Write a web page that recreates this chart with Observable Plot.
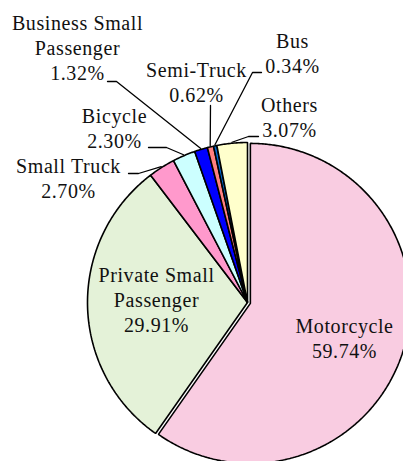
<!DOCTYPE html>
<html>
<head>
<meta charset="utf-8">
<script src="https://cdn.jsdelivr.net/npm/d3@7"></script>
<script src="https://cdn.jsdelivr.net/npm/@observablehq/plot@0.6"></script>
<style>
  html, body { margin: 0; padding: 0; background: #fff; overflow: hidden; }
  #chart svg { display: block; overflow: hidden; }
  #chart svg text { letter-spacing: 0.6px; }
</style>
</head>
<body>
<div id="chart"></div>
<script>
// ---- data ----
const categories = ["Motorcycle", "Private Small Passenger", "Small Truck", "Bicycle",
  "Business Small Passenger", "Semi-Truck", "Bus", "Others"];
const shares = [59.74, 29.91, 2.70, 2.30, 1.32, 0.62, 0.34, 3.07];
const labelNames = [["Motorcycle"], ["Private Small", "Passenger"], ["Small Truck"], ["Bicycle"],
  ["Business Small", "Passenger"], ["Semi-Truck"], ["Bus"], ["Others"]];

// ---- styles / layout ----
const palette = ["#F9CCE1", "#E4F2D8", "#FF99CC", "#CCFFFF", "#0000FF", "#FF8080", "#0066CC", "#FFFFCC"];
const W = 403, H = 461, CX = 247, CY = 302, R = 160;
const explodePx = [3, 0, 0, 0, 0, 0, 0, 0];
// label anchor: center x, baseline of the last line (pixels); leader: label-side points (pixels)
const labelLayout = [
  {x: 344, y: 357},
  {x: 156, y: 331},
  {x: 68, y: 197.5, leader: [[128, 173], [138, 173]]},
  {x: 114, y: 147.5, leader: [[148, 147], [166, 147]]},
  {x: 77, y: 79.5, leader: [[107, 81], [116, 81]]},
  {x: 196, y: 101.5, leader: [[210, 105]]},
  {x: 292, y: 72.5, leader: [[261, 72], [252, 72]]},
  {x: 289, y: 136, leader: [[258, 136], [248, 136]]}
];
const fontSize = 20, lineGap = 25;
const serif = "Liberation Serif";

// ---- geometry from data ----
const table = categories.map((name, i) => ({name, share: shares[i]}));
const arcs = d3.pie().sort(null).value(d => d.share)(table);
const ux = px => (px - CX) / R;
const uy = py => (CY - py) / R;

const slicePoints = [];
arcs.forEach((a, i) => {
  const mid = (a.startAngle + a.endAngle) / 2;
  const e = explodePx[i] / R;
  const ox = e * Math.sin(mid), oy = e * Math.cos(mid);
  const name = a.data.name;
  slicePoints.push({name, x: ox, y: oy});
  const n = Math.max(2, Math.ceil((a.endAngle - a.startAngle) / (Math.PI / 360)));
  for (let k = 0; k <= n; ++k) {
    const t = a.startAngle + (a.endAngle - a.startAngle) * k / n;
    slicePoints.push({name, x: ox + Math.sin(t), y: oy + Math.cos(t)});
  }
});

const leaderPoints = [];
arcs.forEach((a, i) => {
  const L = labelLayout[i];
  if (!L.leader) return;
  const mid = (a.startAngle + a.endAngle) / 2;
  const name = a.data.name;
  L.leader.forEach(([px, py]) => leaderPoints.push({name, x: ux(px), y: uy(py)}));
  const rr = 1 + 1 / R;
  leaderPoints.push({name, x: rr * Math.sin(mid), y: rr * Math.cos(mid)});
});

// one text row per line (no tspans)
const labelLines = arcs.flatMap((a, i) => {
  const lines = [...labelNames[i], `${a.data.share.toFixed(2)}%`];
  const n = lines.length;
  return lines.map((line, j) => ({
    name: a.data.name,
    text: line,
    x: ux(labelLayout[i].x),
    y: uy(labelLayout[i].y - (n - 1 - j) * lineGap)
  }));
});

const chart = Plot.plot({
  width: W,
  height: H,
  margin: 0,
  style: {background: "#fff", overflow: "hidden"},
  x: {domain: [-1, 1], range: [CX - R, CX + R], axis: null},
  y: {domain: [-1, 1], range: [CY + R, CY - R], axis: null},
  color: {domain: categories, range: palette},
  marks: [
    Plot.line(slicePoints, {x: "x", y: "y", z: "name", fill: "name", stroke: "#000",
      strokeWidth: 1.6, curve: "linear-closed", strokeLinejoin: "miter"}),
    Plot.line(leaderPoints, {x: "x", y: "y", z: "name", stroke: "#000", strokeWidth: 1.3}),
    Plot.text(labelLines, {x: "x", y: "y", text: "text", fontSize, fontFamily: serif,
      lineAnchor: "bottom", textAnchor: "middle", fill: "#111"})
  ]
});
document.getElementById("chart").appendChild(chart);
</script>
</body>
</html>
